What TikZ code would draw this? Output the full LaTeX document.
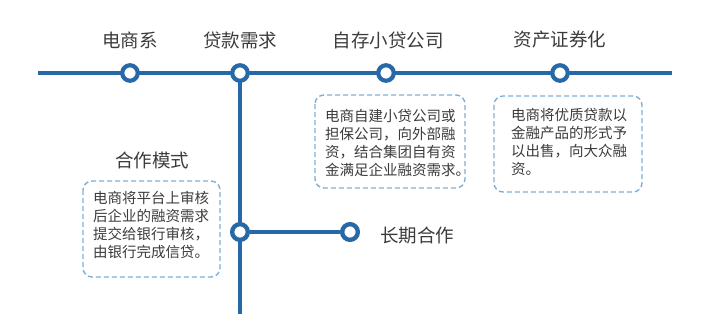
\documentclass[tikz,border=0pt]{standalone}
\usepackage{fontspec}
\setmainfont{Noto Sans CJK SC}
\definecolor{lineblue}{HTML}{2769A6}
\definecolor{dashblue}{HTML}{7FAED6}
\definecolor{txtgray}{HTML}{3C3C3C}
\tikzset{
  track/.style={draw=lineblue,line width=4.5pt},
  stop/.style={circle,draw=lineblue,fill=white,line width=4.2pt,minimum size=15.5pt,inner sep=0pt},
  title/.style={text=txtgray,font=\fontsize{18.5}{20}\selectfont,inner sep=0pt},
  note/.style={text=txtgray,font=\fontsize{14.5}{18}\selectfont,align=left,anchor=north west,inner sep=0pt},
  notebox/.style={draw=dashblue,dash pattern=on 5pt off 3pt,line width=1.4pt,rounded corners=9pt},
}
\begin{document}
\begin{tikzpicture}[x=1pt,y=-1pt]
\useasboundingbox (0,0) rectangle (703,324);
\fill[white] (0,0) rectangle (703,324);
% main line
\coordinate (L) at (38,73);
\coordinate (R) at (672,73);
\coordinate (B) at (240,314);
\draw[track] (L) -- (R);
\draw[track] (240,73) -- (B);
\node[stop] (s1) at (130,73) {};
\node[stop] (s2) at (240,73) {};
\node[stop] (s3) at (386,73) {};
\node[stop] (s4) at (560,73) {};
\node[stop] (j) at (240,232) {};
\node[stop] (e) at (350,232) {};
\draw[track] (j) -- (e);
\node[stop] at (240,232) {};
\node[stop] at (350,232) {};
% labels
\node[title] (t1) at (130,40) {电商系};
\node[title] (t2) at (240,40) {贷款需求};
\node[title] (t3) at (388,40) {自存小贷公司};
\node[title] (t4) at (560,40) {资产证券化};
\node[title] (t5) at (152,160) {合作模式};
\node[title,anchor=west] (t6) at (380,235) {长期合作};
% boxes
\draw[notebox] (315,95) rectangle (465,188);
\node[note] (n1) at (325,109) {电商自建小贷公司或\\担保公司，向外部融\\资，结合集团自有资\\金满足企业融资需求。};
\draw[notebox] (494,96) rectangle (642,192);
\node[note] (n2) at (511,108) {电商将优质贷款以\\金融产品的形式予\\以出售，向大众融\\资。};
\draw[notebox] (83,181) rectangle (220,277);
\node[note] (n3) at (93,191) {电商将平台上审核\\后企业的融资需求\\提交给银行审核，\\由银行完成信贷。};
\end{tikzpicture}
\end{document}
